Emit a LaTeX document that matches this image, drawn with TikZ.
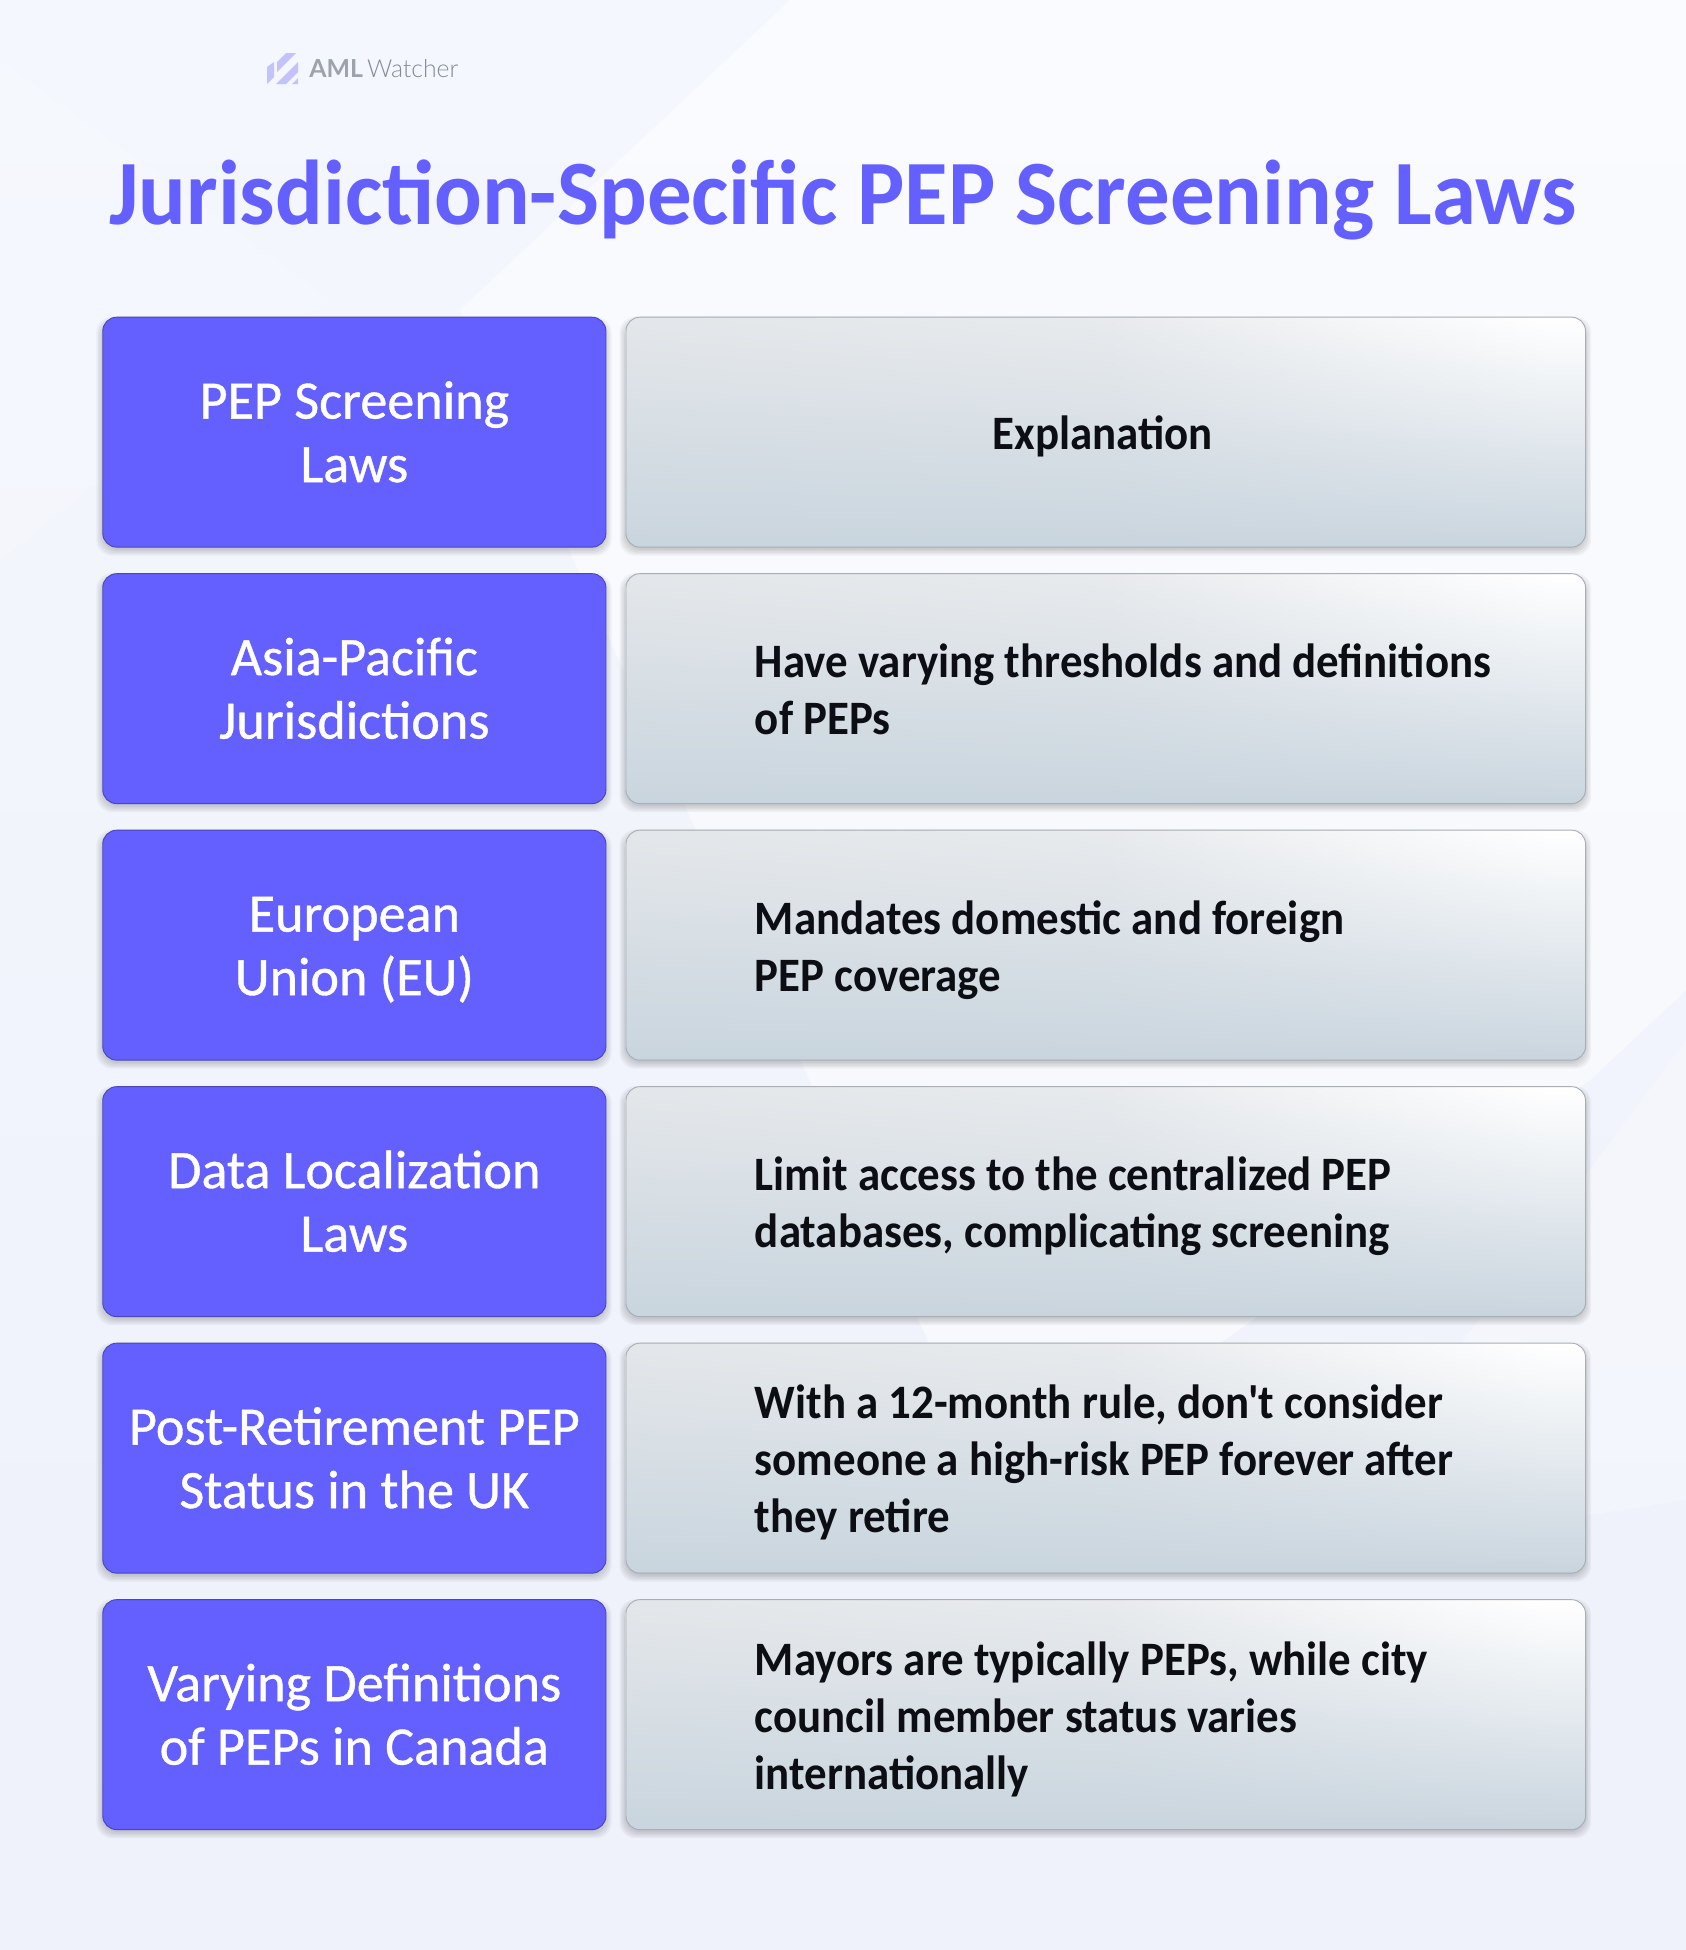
\documentclass[tikz,border=0pt]{standalone}
\usepackage{fontspec}
\usetikzlibrary{calc}
\setmainfont{Carlito}[Ligatures=TeXOff,BoldFeatures={FakeStretch=.935}]
\newfontfamily\midfont{Carlito}[FakeBold=0.7,FakeStretch=1.0]
\newfontfamily\titlefont{Carlito}[BoldFeatures={FakeStretch=.967}]
\newfontfamily\logofont{Lato}
\newfontfamily\logolight{Lato Light}
\definecolor{brandblue}{HTML}{645FFF}
\definecolor{brandedge}{HTML}{4A46B4}
\definecolor{greyedge}{HTML}{A8AEB4}
\definecolor{inktext}{HTML}{0C0E14}
\definecolor{logogrey}{HTML}{9CA3AB}
\definecolor{logogreydark}{HTML}{848C95}
\definecolor{logohatch}{HTML}{C4C2FB}
\definecolor{bgtop}{HTML}{F4F7FD}
\definecolor{bgbottom}{HTML}{EFF1FB}
\definecolor{celltop}{HTML}{E4E7EA}
\definecolor{cellmid}{HTML}{DBE1E6}
\definecolor{cellbottom}{HTML}{C9D5DE}
\tikzset{
  x=0.5pt,y=-0.5pt,
  cellbase/.style={rounded corners=7pt,minimum height=115pt,anchor=north west,inner sep=0pt,line width=.45pt},
  leftbox/.style={cellbase,minimum width=251.6pt,draw=brandedge,fill=brandblue},
  rightbox/.style={cellbase,minimum width=479.8pt,draw=greyedge},
  leftlabel/.style={text=white,align=center,inner sep=0pt,font=\midfont\fontsize{27.1}{31.75}\selectfont},
  rightlabel/.style={text=inktext,align=left,inner sep=0pt,font=\fontsize{24}{28.5}\bfseries\selectfont},
  softshadow/.style={black,opacity=.04,rounded corners=8pt},
}
% shadow: #1 x, #2 y, #3 width in reference pixels
\newcommand{\softshadowat}[3]{%
  \foreach \grow in {0,1.5,3,4.5,6}{
    \fill[softshadow] (#1-\grow,#2+6-\grow) rectangle (#1+#3+\grow,#2+230+3+\grow);
  }}
% #1 row, #2 top y
\newcommand{\cellpair}[2]{%
  \softshadowat{102.3}{#2}{503.2}
  \softshadowat{625.5}{#2}{959.6}
  \node[leftbox] (L#1) at (102.3,#2) {};
  \begin{scope}
    \clip[rounded corners=7pt] (625.5,#2) rectangle (1585.1,#2+230);
    \foreach \i in {0,...,95}{
      \pgfmathsetmacro{\stripx}{625+10*\i}
      \pgfmathsetmacro{\glow}{\i<48 ? 0.325*\i : 15.6+(\i-48)*1.925}
      \colorlet{striptop}{white!\glow!celltop}
      \colorlet{stripmid}{glowmid!\glow!cellmid}
      \shade[top color=striptop,middle color=stripmid,bottom color=cellbottom] (\stripx,#2) rectangle (\stripx+11,#2+230);
    }
  \end{scope}
  \node[rightbox] (R#1) at (625.5,#2) {};
}
\colorlet{glowmid}{white!70!cellmid}
\begin{document}
\begin{tikzpicture}
\useasboundingbox (0,0) rectangle (1686,1950);
% background
\shade[top color=bgtop,bottom color=bgbottom] (0,0) rectangle (1686,1950);
\fill[white,opacity=.5] (790,0) -- (1686,0) -- (1686,990) -- (1590,1080) -- (1000,1500) -- (460,310) -- cycle;
\fill[white,opacity=.15] (0,60) -- (330,300) -- (0,560) -- cycle;
\fill[white,opacity=.25] (1686,1040) -- (1686,1500) -- (1300,1560) -- cycle;
% logo
\begin{scope}
 \clip (267,53) rectangle (298,84);
 \fill[logohatch] (267,84) -- (267,67) -- (274,62) -- (274,77) -- cycle;
 \fill[logohatch] (276,84) -- (298,62) -- (298,72) -- (286,84) -- cycle;
 \fill[logohatch] (277,72) -- (296,53) -- (286,53) -- (277,62) -- cycle;
 \fill[logohatch] (292,84) -- (298,78) -- (298,84) -- cycle;
\end{scope}
\node[anchor=base west,inner sep=0pt,text=logogrey,font=\fontsize{12.4}{15}\selectfont] (logo) at (309,77) {{\logofont\bfseries AML}\,{\logolight\color{logogreydark}Watcher}};
% title
\node[anchor=base,inner sep=0pt,text=brandblue,font=\titlefont\fontsize{46}{50}\bfseries\selectfont] (title) at (843,224.5) {Jurisdiction-Specific PEP Screening Laws};
% rows
\cellpair{1}{316.7}
\cellpair{2}{573.2}
\cellpair{3}{829.7}
\cellpair{4}{1086.2}
\cellpair{5}{1342.7}
\cellpair{6}{1599.2}
% left labels
\node[leftlabel] (Lt1) at ($(L1.center)+(0,5.5)$) {\strut PEP Screening\\Laws\strut};
\node[leftlabel] (Lt2) at ($(L2.center)+(0,5.5)$) {\strut Asia-Pacific\\Jurisdictions\strut};
\node[leftlabel] (Lt3) at ($(L3.center)+(0,5.5)$) {\strut European\\Union (EU)\strut};
\node[leftlabel] (Lt4) at ($(L4.center)+(0,5.5)$) {\strut Data Localization\\Laws\strut};
\node[leftlabel] (Lt5) at ($(L5.center)+(0,5.5)$) {\strut Post-Retirement PEP\\Status in the UK\strut};
\node[leftlabel] (Lt6) at ($(L6.center)+(0,5.5)$) {\strut Varying Definitions\\of PEPs in Canada\strut};
% right labels
\node[rightlabel] (Rt1) at ($(R1.center)+(-3,6)$) {\strut Explanation\strut};
\node[rightlabel,anchor=west] (Rt2) at ($(R2.west)+(129,6)$) {\strut Have varying thresholds and definitions\\of PEPs\strut};
\node[rightlabel,anchor=west] (Rt3) at ($(R3.west)+(129,6)$) {\strut Mandates domestic and foreign\\PEP coverage\strut};
\node[rightlabel,anchor=west] (Rt4) at ($(R4.west)+(129,6)$) {\strut Limit access to the centralized PEP\\databases, complicating screening\strut};
\node[rightlabel,anchor=west] (Rt5) at ($(R5.west)+(129,6)$) {\strut With a 12-month rule, don't consider\\someone a high-risk PEP forever after\\they retire\strut};
\node[rightlabel,anchor=west] (Rt6) at ($(R6.west)+(129,6)$) {\strut Mayors are typically PEPs, while city\\council member status varies\\internationally\strut};
\end{tikzpicture}
\end{document}
